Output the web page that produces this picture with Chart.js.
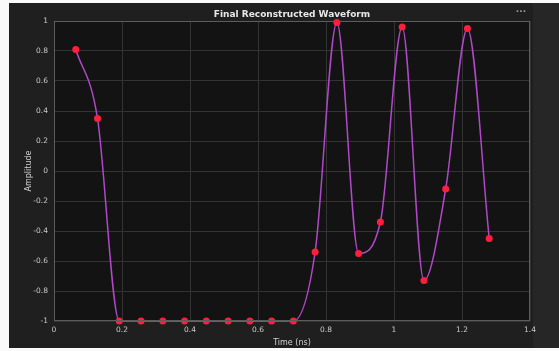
<!DOCTYPE html>
<html>
<head>
<meta charset="utf-8">
<script src="https://cdn.jsdelivr.net/npm/chart.js@4"></script>
<style>
  html, body { margin:0; padding:0; background:#fff; }
  #wrap { width:559px; height:351px; }
</style>
</head>
<body>
<div id="wrap"><canvas id="chartWave" width="559" height="351"></canvas></div>
<script>
// sample times (ns) and reconstructed amplitudes
const sampleTimes = [0.064, 0.128, 0.192, 0.256, 0.320, 0.384, 0.448, 0.512, 0.576, 0.640,
                     0.704, 0.768, 0.832, 0.896, 0.960, 1.024, 1.088, 1.152, 1.216, 1.280];
const amplitudes  = [0.81, 0.35, -1, -1, -1, -1, -1, -1, -1, -1,
                     -1, -0.54, 0.99, -0.55, -0.34, 0.96, -0.73, -0.12, 0.95, -0.45];
const xTicks = [0, 0.2, 0.4, 0.6, 0.8, 1, 1.2, 1.4];
const yTicks = [-1, -0.8, -0.6, -0.4, -0.2, 0, 0.2, 0.4, 0.6, 0.8, 1];
const chartTitle = 'Final Reconstructed Waveform';

const fmt = v => String(Math.round(v * 10) / 10);

// dark figure panel, axes box and title over the plot area
const panelBg = {
  id: 'panelBg',
  beforeDraw(chart){
    const {ctx, chartArea:a} = chart;
    ctx.save();
    ctx.fillStyle = '#fafafa';
    ctx.fillRect(0, 0, chart.width, chart.height);
    ctx.fillStyle = '#262626';
    ctx.fillRect(533, 3, chart.width - 533, 345);
    ctx.fillStyle = '#1f1f1f';
    ctx.fillRect(9, 3, 524, 345);
    ctx.fillStyle = '#131313';
    ctx.fillRect(a.left, a.top, a.right - a.left, a.bottom - a.top);
    ctx.restore();
  },
  afterDatasetsDraw(chart){
    const {ctx, chartArea:a} = chart;
    ctx.save();
    ctx.strokeStyle = '#5c5c5c';
    ctx.lineWidth = 1;
    ctx.strokeRect(a.left + 0.5, a.top + 0.5, a.right - a.left - 1, a.bottom - a.top - 1);
    ctx.textAlign = 'center';
    ctx.textBaseline = 'middle';
    ctx.fillStyle = '#e8e8e8';
    ctx.font = 'bold 9px "DejaVu Sans"';
    ctx.fillText(chartTitle, (a.left + a.right) / 2, 14.5);
    // toolbar dots
    ctx.fillStyle = '#9a9a9a';
    ctx.fillText('...', 521, 10);
    ctx.restore();
  }
};

new Chart(document.getElementById('chartWave'), {
  type: 'line',
  data: {
    datasets: [{
      data: sampleTimes.map((t, i) => ({x: t, y: amplitudes[i]})),
      borderColor: '#b048c8',
      borderWidth: 1.5,
      cubicInterpolationMode: 'monotone',
      pointRadius: 3.5,
      pointBackgroundColor: '#ff1e3c',
      pointBorderColor: '#ff1e3c',
      pointBorderWidth: 0,
      clip: false
    }]
  },
  options: {
    responsive: false,
    animation: false,
    layout: { padding: { left: 24, right: 29, top: 21, bottom: 0 } },
    plugins: {
      legend: { display: false },
      tooltip: { enabled: false },
      title: { display: false }
    },
    scales: {
      x: {
        type: 'linear',
        min: 0, max: 1.4,
        afterFit: s => { s.height = 30; },
        afterBuildTicks: s => { s.ticks = xTicks.map(v => ({value: v})); },
        grid: { color: '#333333', drawTicks: false },
        border: { display: false },
        ticks: { color: '#c8c8c8', font: { family: 'DejaVu Sans', size: 7.5 }, padding: 5, callback: fmt, maxRotation: 0 },
        title: { display: true, text: 'Time (ns)', color: '#d0d0d0', font: { family: 'DejaVu Sans', size: 8 }, padding: { top: 0, bottom: 3 } }
      },
      y: {
        min: -1, max: 1,
        afterFit: s => { s.width = 30; },
        afterBuildTicks: s => { s.ticks = yTicks.map(v => ({value: v})); },
        grid: { color: '#333333', drawTicks: false },
        border: { display: false },
        ticks: { color: '#c8c8c8', font: { family: 'DejaVu Sans', size: 7.5 }, padding: 6, callback: fmt },
        title: { display: true, text: 'Amplitude', color: '#d0d0d0', font: { family: 'DejaVu Sans', size: 8 }, padding: { top: 0, bottom: 0 } }
      }
    }
  },
  plugins: [panelBg]
});
</script>
</body>
</html>
